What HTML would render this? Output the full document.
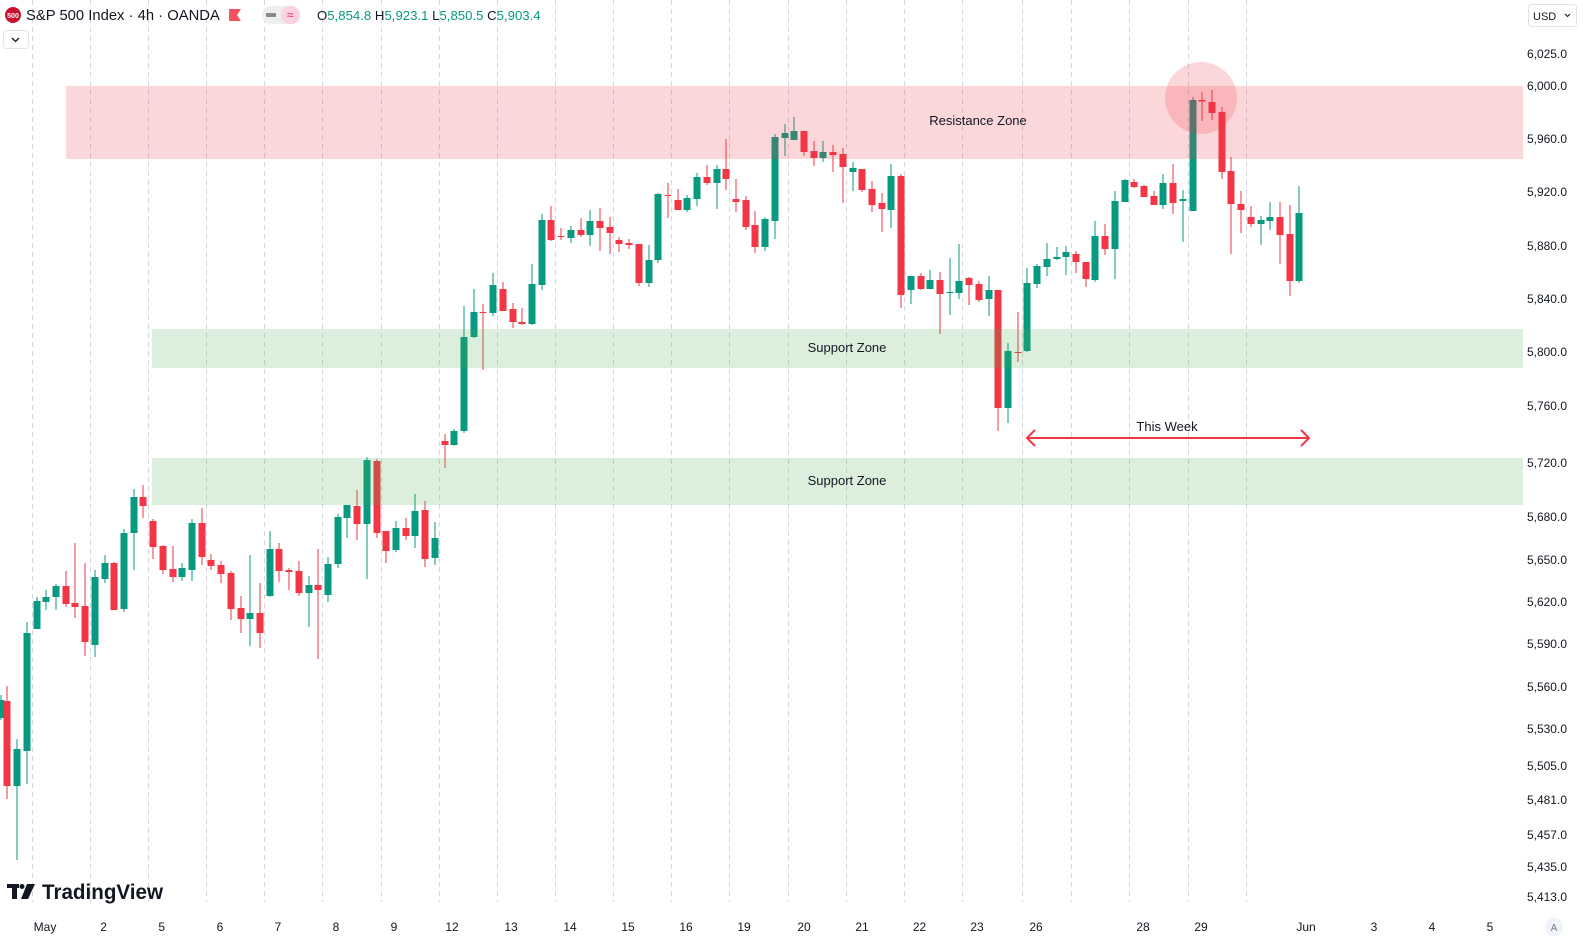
<!DOCTYPE html>
<html><head><meta charset="utf-8">
<style>
html,body{margin:0;padding:0;background:#fff;}
body{width:1583px;height:936px;overflow:hidden;position:relative;font-family:"Liberation Sans",sans-serif;}
svg{position:absolute;left:0;top:0;}
</style></head>
<body>
<svg id="c" width="1583" height="936" viewBox="0 0 1583 936" xmlns="http://www.w3.org/2000/svg" font-family="Liberation Sans, sans-serif">
<g id="grid" stroke="#d5d7dd" stroke-width="1" stroke-dasharray="5 4"></g>
<g id="candles"></g>
<rect x="66" y="86" width="1457" height="73" fill="rgba(242,54,69,0.2)"/>
<rect x="152" y="329" width="1371" height="39" fill="rgba(76,175,80,0.2)"/>
<rect x="152" y="458" width="1371" height="47" fill="rgba(76,175,80,0.2)"/>
<circle cx="1201" cy="98" r="36" fill="rgba(242,54,69,0.2)"/>
<text x="978" y="125" font-size="13" fill="#131722" text-anchor="middle">Resistance Zone</text>
<text x="847" y="352" font-size="13" fill="#131722" text-anchor="middle">Support Zone</text>
<text x="847" y="485" font-size="13" fill="#131722" text-anchor="middle">Support Zone</text>
<line x1="1027" y1="438" x2="1309" y2="438" stroke="#f23645" stroke-width="2"/>
<polyline points="1035,430 1027,438 1035,446" fill="none" stroke="#f23645" stroke-width="2"/>
<polyline points="1301,430 1309,438 1301,446" fill="none" stroke="#f23645" stroke-width="2"/>
<text x="1167" y="431" font-size="13" fill="#131722" text-anchor="middle">This Week</text>
<g font-size="12" fill="#131722" text-anchor="end" id="pax"></g>
<g font-size="12" fill="#131722" text-anchor="middle" id="dax"></g>
<circle cx="13" cy="15" r="8" fill="#c8102e"/>
<text x="13" y="18" font-size="7" fill="#fff" text-anchor="middle" font-weight="bold">500</text>
<text x="26" y="20" font-size="14.8" fill="#131722">S&amp;P 500 Index · 4h · OANDA</text>
<path d="M229 9 h12 l-4 6 l4 6 h-12 z" fill="#f7525f"/>
<rect x="262" y="6" width="38" height="18" rx="9" fill="#eeeef0"/>
<rect x="281" y="6" width="19" height="18" rx="9" fill="#f9d3dd"/>
<rect x="266" y="13" width="10" height="4" rx="1" fill="#888"/>
<text x="290" y="19" font-size="12" fill="#e91e63" text-anchor="middle">≈</text>
<text x="317" y="20" font-size="13.2" fill="#131722">O<tspan fill="#089981">5,854.8</tspan> H<tspan fill="#089981">5,923.1</tspan> L<tspan fill="#089981">5,850.5</tspan> C<tspan fill="#089981">5,903.4</tspan></text>
<rect x="3.5" y="30.5" width="25" height="18" rx="3" fill="#fff" stroke="#e0e3eb"/>
<polyline points="12,38 15.5,41.5 19,38" fill="none" stroke="#131722" stroke-width="1.3"/>
<rect x="1528.5" y="4.5" width="48" height="22" rx="3" fill="#fff" stroke="#e0e3eb"/>
<text x="1533" y="20" font-size="11" fill="#131722">USD</text>
<polyline points="1565,14 1567.5,16.5 1570,14" fill="none" stroke="#131722" stroke-width="1.1"/>
<g transform="translate(0,8)">
<rect x="7" y="876" width="12" height="4" fill="#131722"/>
<rect x="12" y="876" width="5" height="15" fill="#131722"/>
<circle cx="22" cy="878.5" r="2.5" fill="#131722"/>
<path d="M27 876 h8 l-7 15 h-7 z" fill="#131722"/>
<text x="42" y="891" font-size="21" font-weight="bold" fill="#131722" textLength="121" lengthAdjust="spacingAndGlyphs">TradingView</text>
</g>
<circle cx="1554" cy="927" r="9" fill="#f0f3fa"/>
<text x="1554" y="931" font-size="10" fill="#787b86" text-anchor="middle">A</text>
</svg>
<script>
(function(){
var NS="http://www.w3.org/2000/svg";
function el(p,t,a){var e=document.createElementNS(NS,t);for(var k in a)e.setAttribute(k,a[k]);p.appendChild(e);return e;}
var g=document.getElementById("grid");
var xs=[];for(var k=0;k<=16;k++)xs.push(31.6+58.15*k);xs=xs.concat([1022,1071,1129,1188,1246]);
xs.forEach(function(x){x=Math.round(x)+0.5;el(g,"line",{x1:x,y1:0,x2:x,y2:902});});
var d=[[1,718,700,695,720],[6.5,701,786,686,799],[16.5,786,749,739,860],[26.5,751,633,622,784],[36.5,629,601,597,629],[46,602,597,590,610],[55.5,597,586,584,610],[65.5,586,604,571,607],[74.5,603,607,543,618],[84.5,606,642,563,656],[94.5,645,577,570,657],[104.5,579,563,555,583],[114,563,610,562,610],[124,609,533,529,612],[133.5,533,497,489,570],[142.5,497,506,485,518],[152.5,521,547,519,559],[162.5,546,570,545,574],[172.5,569,577,546,582],[181.5,577,568,563,581],[191.5,570,523,519,581],[201.5,523,557,508,565],[210.5,560,566,554,570],[220.5,565,574,561,583],[230.5,573,609,571,620],[240.5,608,619,596,633],[249.5,619,613,555,646],[259.5,613,633,583,648],[269.5,596,549,531,597],[278.5,549,571,543,582],[288.5,570,572,568,590],[298.5,571,593,561,596],[308.5,593,585,576,627],[317.5,585,590,549,659],[327.5,595,564,557,602],
[337.5,564,517,514,568],[346.5,518,505,505,538],[356.5,506,524,490,540],[366.5,524,460,457,579],[376.5,461,533,459,538],[385.5,531,551,531,563],[395.5,550,528,521,552],[405.5,528,536,518,540],[414.5,536,511,494,548],[424.5,510,559,501,567],[434.5,558,538,522,565],[444.5,441,445,434,468],[453.5,445,431,429,446],[463.5,431,337,306,433],[473.5,337,312,289,338],[482.5,312,313,304,370],[492.5,313,285,273,316],[502.5,289,311,282,311],[512.5,309,322,303,328],[521.5,322,324,308,325],[531.5,324,284,264,325],[541.5,285,220,214,290],[550.5,220,240,206,241],[560.5,236,237,228,240],[570.5,238,230,226,243],[580.5,230,235,218,237],[589.5,235,221,210,246],[599.5,221,228,208,251],[609.5,227,233,217,254],[618.5,240,244,237,252],[628.5,243,245,239,249],[638.5,244,283,244,286],[648.5,283,260,245,287],
[657.5,260,194,193,263],[667.5,195,195.5,183,218],[677.5,200,210,189,210],[686.5,210,198,195,212],[696.5,199,177,173,206],[706.5,177,183,165,185],[716.5,183,169,165,209],[725.5,169,179,139,190],[735.5,199,202,179,212],[745.5,200,227,196,230],[754.5,225,247,211,253],[764.5,247,219,217,251],[774.5,221,137,134,239],[784.5,138,133,124,156],[793.5,140,131,117,140],[803.5,131,152,131,156],[813.5,151,158,141,166],[822.5,158,152,141,162],[832.5,152,155,145,172],[842.5,154,167,148,203],[852.5,172,168,162,191],[861.5,169,190,169,192],[871.5,189,205,181,212],[881.5,203,209,193,232],[890.5,210,176,164,228],[900.5,176,295,174,308],[910.5,290,276,276,304],[920.5,276,289,273,290],[929.5,289,280,270,289],[939.5,280,294,272,334],[949.5,292.5,292,258,315],[958.5,293,281,244,299],
[968.5,278,285,277,305],[978.5,284,300,281,302],[988.5,299,290,276,316],[997.5,290,408,290,431],[1007.5,408,351,343,423],[1017.5,352,352.5,312,362],[1026.5,351,283,268,352],[1036.5,284,266,264,288],[1046.5,267,259,243,276],[1056.5,259,257,247,260],[1065.5,257,252,246,275],[1075.5,254,262,251,273],[1085.5,262,279,262,287],[1094.5,280,236,221,282],[1104.5,236,249,224,255],[1114.5,249,201,191,279],[1124.5,202,180,179,202],[1133.5,182,187,179,188],[1143.5,186,197,185,197],[1153.5,196,205,191,205],[1162.5,205,183,174,209],[1172.5,183,203,164,214],[1182.5,201,199,190,242],[1192.5,211,100,97,211],[1201.5,100,101.5,92,121],[1211.5,102,113,90,120],[1221.5,112,172,107,179],[1230.5,171,204,157,254],[1240.5,204,210,191,233],[1250.5,217,224,206,227],[1260.5,224,220,216,245],[1269.5,221,217,202,230],[1279.5,217,235,202,264],[1289.5,234,281,205,296],[1298.5,281,213,186,283]];
var cg=document.getElementById("candles");
d.forEach(function(c){var x=c[0],o=c[1],cl=c[2],h=c[3],l=c[4];var up=cl<=o;var col=up?"#089981":"#f23645";
var t=Math.min(o,cl),b=Math.max(o,cl);h=Math.min(h,t);l=Math.max(l,b);
el(cg,"rect",{x:Math.round(x)-0.5,y:h,width:1,height:l-h,fill:col});
el(cg,"rect",{x:Math.round(x)-3.5,y:t,width:7,height:Math.max(1,b-t),fill:col});});
var p=document.getElementById("pax");
[["6,025.0",54],["6,000.0",86],["5,960.0",139],["5,920.0",192],["5,880.0",246],["5,840.0",299],["5,800.0",352],["5,760.0",406],["5,720.0",463],["5,680.0",517],["5,650.0",560],["5,620.0",602],["5,590.0",644],["5,560.0",687],["5,530.0",729],["5,505.0",766],["5,481.0",800],["5,457.0",835],["5,435.0",867],["5,413.0",897]].forEach(function(a){var t=el(p,"text",{x:1567,y:a[1]+4});t.textContent=a[0];});
var dx=document.getElementById("dax");
[["May",45],["2",103.6],["5",161.7],["6",220],["7",278],["8",336],["9",394],["12",452],["13",511],["14",570],["15",628],["16",686],["19",744],["20",804],["21",862],["22",919.5],["23",977],["26",1036],["28",1143],["29",1201],["Jun",1306],["3",1374],["4",1432],["5",1490]].forEach(function(a){var t=el(dx,"text",{x:a[1],y:931});t.textContent=a[0];});
})();
</script>
</body></html>
